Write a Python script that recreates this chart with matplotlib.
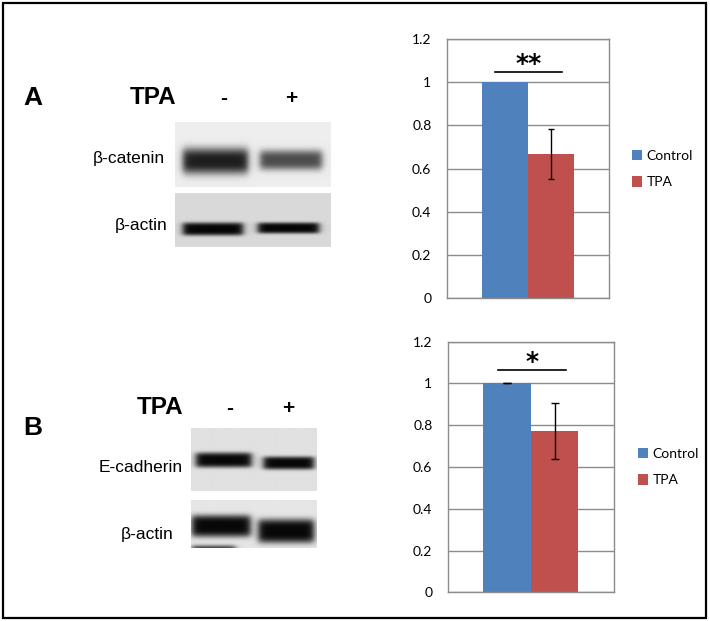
import numpy as np
import matplotlib
matplotlib.use("Agg")
import matplotlib.pyplot as plt
from matplotlib.patches import Rectangle, Patch

W, H = 710, 621

# quantified band intensity (relative to control)
groups = ["Control", "TPA"]
colors = ["#4F81BD", "#C0504D"]
a_means = [1.0, 0.667]
a_err = [float("nan"), 0.115]
b_means = [1.0, 0.772]
b_err = [0.0, 0.133]
y_ticks = [0, 0.2, 0.4, 0.6, 0.8, 1.0, 1.2]
y_tick_labels = ["0", "0.2", "0.4", "0.6", "0.8", "1", "1.2"]
a_sig = "**"
b_sig = "*"
lanes = ["-", "+"]

fig = plt.figure(figsize=(W / 100, H / 100), dpi=100)


def px_axes(x0, y0, x1, y1):
    return fig.add_axes([x0 / W, 1 - y1 / H, (x1 - x0) / W, (y1 - y0) / H])


def px_text(x, y, s, **kw):
    fig.text(x / W, 1 - y / H, s, **kw)


def blot(rect, bg, bands):
    x0, y0, x1, y1 = rect
    ax = px_axes(x0, y0, x1, y1)
    xx, yy = np.meshgrid(np.arange(x0, x1, 0.5) + 0.25, np.arange(y0, y1, 0.5) + 0.25)
    img = np.full(xx.shape, bg)
    for bx0, bx1, yc, th, dark, p in bands:
        horiz = 1 / (1 + np.exp(-(xx - bx0) / 2.0)) / (1 + np.exp((xx - bx1) / 2.0))
        vert = np.exp(-np.abs((yy - yc) / (th / 2)) ** p)
        img = img - (bg - dark) * horiz * vert
    ax.imshow(np.clip(img, 0, 1), cmap="gray", vmin=0, vmax=1, extent=(x0, x1, y1, y0),
              aspect="auto", interpolation="bilinear")
    ax.axis("off")


def bar_chart(rect, means, errs, sig, sig_y, capsize, legend_xy):
    ax = px_axes(*rect)
    w = 0.285
    xs = [-w / 2, w / 2]
    ax.bar(xs, means, width=w, color=colors, zorder=2)
    ax.errorbar(xs, means, yerr=errs, fmt="none", ecolor="black", elinewidth=1,
                capsize=capsize, capthick=1, zorder=3)
    ax.set_xlim(-0.5, 0.5)
    ax.set_ylim(0, 1.2)
    ax.set_yticks(y_ticks)
    ax.set_yticklabels(y_tick_labels, family="Lato", fontsize=10)
    ax.set_xticks([])
    ax.tick_params(axis="y", length=0, pad=11)
    ax.grid(axis="y", color="#8c8c8c", linewidth=1, zorder=0)
    ax.set_axisbelow(True)
    for sp in ax.spines.values():
        sp.set_color("#8c8c8c")
        sp.set_linewidth(1)
    ax.plot([-0.2, 0.21], [sig_y, sig_y], color="black", linewidth=1.2)
    ax.text(0.005, sig_y + 0.04, sig, ha="center", va="center", fontsize=18,
            fontweight="bold", family="DejaVu Sans")
    handles = [Patch(facecolor=c, edgecolor="none") for c in colors]
    fig.legend(handles, groups, loc="center left",
               bbox_to_anchor=(legend_xy[0] / W, 1 - legend_xy[1] / H),
               frameon=False, prop={"family": "Lato", "size": 10},
               handlelength=0.75, handleheight=0.75, handletextpad=0.3,
               labelspacing=1.05, borderpad=0, borderaxespad=0)
    return ax


lab = dict(family="Liberation Sans", color="black")

# ---- panel A ----
bar_chart((446.7, 39, 609.3, 298.3), a_means, a_err, a_sig, 1.046, 2.5, (632, 169))

px_text(23, 98, "A", fontsize=19, fontweight="bold", va="center", ha="left", **lab)
px_text(176, 98, "TPA", fontsize=17.5, fontweight="bold", va="center", ha="right", **lab)
px_text(224, 98, lanes[0], fontsize=15, fontweight="bold", va="center", ha="center", **lab)
px_text(291, 98, lanes[1], fontsize=15, fontweight="bold", va="center", ha="center", **lab)
px_text(165, 159, "β-catenin", fontsize=12.5, va="center", ha="right", **lab)
px_text(168, 225, "β-actin", fontsize=12.5, va="center", ha="right", **lab)

blot((175, 122, 331, 187), 0.93,
     [(183, 248, 161, 26, 0.12, 3), (260, 322, 160, 20, 0.3, 3)])
blot((175, 193, 331, 247), 0.85,
     [(183, 243, 229, 13, 0.02, 4), (258, 319, 228, 11, 0.02, 4)])

# ---- panel B ----
bar_chart((447.7, 341.7, 614, 592.3), b_means, b_err, b_sig, 1.064, 3.2, (638, 467))

px_text(23, 428, "B", fontsize=19, fontweight="bold", va="center", ha="left", **lab)
px_text(183, 408, "TPA", fontsize=17.5, fontweight="bold", va="center", ha="right", **lab)
px_text(230, 408, lanes[0], fontsize=15, fontweight="bold", va="center", ha="center", **lab)
px_text(288, 408, lanes[1], fontsize=15, fontweight="bold", va="center", ha="center", **lab)
px_text(183, 468, "E-cadherin", fontsize=12.5, va="center", ha="right", **lab)
px_text(174, 535, "β-actin", fontsize=12.5, va="center", ha="right", **lab)

blot((191, 428, 316, 491), 0.88,
     [(196, 251, 460, 15, 0.03, 4), (263, 313, 463, 13, 0.03, 4)])
blot((191, 500, 316, 548), 0.9,
     [(192, 250, 526, 22, 0.03, 4), (258, 313, 531, 24, 0.03, 4),
      (192, 235, 548, 6, 0.3, 2)])

# outer frame
fig.add_artist(Rectangle((3 / W, 3 / H), (W - 7) / W, (H - 6) / H,
                         transform=fig.transFigure, fill=False,
                         edgecolor="black", linewidth=1.6))

fig.savefig("out.png", dpi=100)
